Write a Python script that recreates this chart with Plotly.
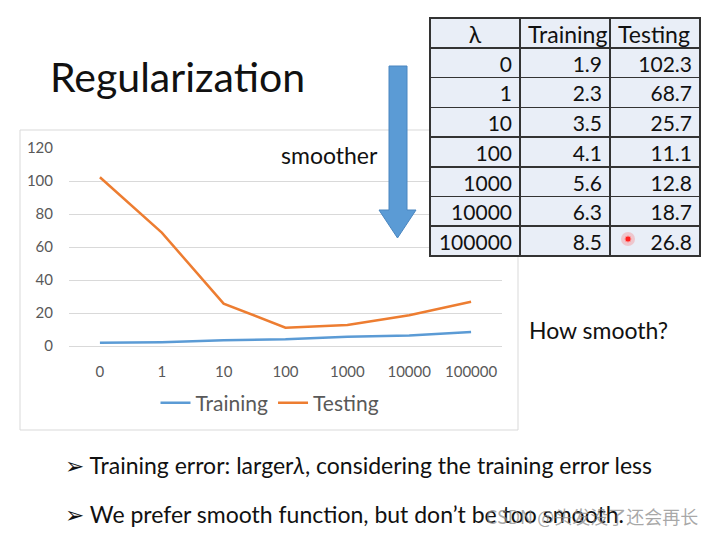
import plotly.graph_objects as go

# page has an 8px body margin, so the figure is drawn 8px in from the window corner
OFF = 8
W, H = 714 - 2 * OFF, 539 - 2 * OFF

lambdas = ["0", "1", "10", "100", "1000", "10000", "100000"]
training = [1.9, 2.3, 3.5, 4.1, 5.6, 6.3, 8.5]
testing = [102.3, 68.7, 25.7, 11.1, 12.8, 18.7, 26.8]
y_ticks = [0, 20, 40, 60, 80, 100, 120]

FONT = "Lato, 'Open Sans', sans-serif"
BLUE = "#5b9bd5"
ORANGE = "#ed7d31"
AXIS_TXT = "#595959"


def px(x):
    return (x - OFF) / W


def py(y):
    return 1 - (y - OFF) / H


fig = go.Figure()

fig.add_trace(go.Scatter(x=lambdas, y=training, mode="lines", name="Training",
                         line=dict(color=BLUE, width=2.5)))
fig.add_trace(go.Scatter(x=lambdas, y=testing, mode="lines", name="Testing",
                         line=dict(color=ORANGE, width=2.5)))

fig.add_trace(go.Table(
    domain=dict(x=[px(430), px(700)], y=[py(300), py(18)]),
    columnwidth=[90, 90, 90],
    header=dict(values=["λ", "Training", "Testing"],
                align=["center", "left", "left"],
                fill_color="#e9eef7",
                line=dict(color="#333333", width=1.5),
                font=dict(family=FONT, size=23, color="#111111"),
                height=30),
    cells=dict(values=[lambdas,
                       [f"{v:.1f}" for v in training],
                       [f"{v:.1f}" for v in testing]],
               align="right",
               fill_color="#e9eef7",
               line=dict(color="#333333", width=1.5),
               font=dict(family=FONT, size=21, color="#111111"),
               height=29.7),
))

shapes = []
# chart frame
shapes.append(dict(type="rect", xref="paper", yref="paper",
                   x0=px(20), x1=px(518), y0=py(430), y1=py(130),
                   line=dict(color="#d9d9d9", width=1), layer="below"))
# arrow
ax0, ax1, hx0, hx1 = 389, 407, 379, 416
ytop, yneck, ytip = 66, 210, 238
path = (f"M {px(ax0)} {py(ytop)} L {px(ax1)} {py(ytop)} L {px(ax1)} {py(yneck)} "
        f"L {px(hx1)} {py(yneck)} L {px((hx0 + hx1) / 2)} {py(ytip)} "
        f"L {px(hx0)} {py(yneck)} L {px(ax0)} {py(yneck)} Z")
shapes.append(dict(type="path", xref="paper", yref="paper", path=path,
                   fillcolor=BLUE, line=dict(color="#4a86c0", width=1)))
# laser pointer dot
shapes.append(dict(type="circle", xref="paper", yref="paper",
                   x0=px(621), x1=px(635), y0=py(246), y1=py(232),
                   fillcolor="rgba(255,80,80,0.25)", line=dict(width=0)))
shapes.append(dict(type="circle", xref="paper", yref="paper",
                   x0=px(625), x1=px(631), y0=py(242), y1=py(236),
                   fillcolor="#ff2020", line=dict(color="#ff9090", width=1)))

annotations = [
    dict(text="Regularization", x=px(48), y=py(77), xanchor="left", yanchor="middle",
         font=dict(family=FONT, size=41, color="#111111")),
    dict(text="smoother", x=px(279), y=py(155), xanchor="left", yanchor="middle",
         font=dict(family=FONT, size=23, color="#111111")),
    dict(text="How smooth?", x=px(527), y=py(330), xanchor="left", yanchor="middle",
         font=dict(family=FONT, size=23, color="#111111")),
    dict(text="<span style='font-family:DejaVu Sans'>➢</span> Training error: larger<i>λ</i>, considering the training error less",
         x=px(63), y=py(465), xanchor="left", yanchor="middle",
         font=dict(family=FONT, size=23, color="#111111")),
    dict(text="<span style='font-family:DejaVu Sans'>➢</span> We prefer smooth function, but don’t be too smooth.",
         x=px(63), y=py(514), xanchor="left", yanchor="middle",
         font=dict(family=FONT, size=23, color="#111111")),
    dict(text="CSDN @头发没了还会再长", x=px(700), y=py(531), xanchor="right", yanchor="bottom",
         font=dict(family="'Noto Sans CJK SC', sans-serif", size=18, color="rgba(140,140,140,0.75)")),
]
for a in annotations:
    a.update(xref="paper", yref="paper", showarrow=False)

fig.update_layout(
    width=W, height=H,
    margin=dict(l=0, r=0, t=0, b=0, pad=0, autoexpand=False),
    paper_bgcolor="white", plot_bgcolor="white",
    font=dict(family=FONT, color=AXIS_TXT),
    xaxis=dict(domain=[px(69), px(502)], type="category", range=[-0.5, 6.5],
               showgrid=False, zeroline=False, showline=False, automargin=False,
               ticks="outside", ticklen=12, tickcolor="rgba(0,0,0,0)",
               tickfont=dict(size=15, color=AXIS_TXT), fixedrange=True),
    yaxis=dict(domain=[py(346), py(148)], range=[0, 120], tickvals=y_ticks,
               showgrid=True, gridcolor="#d9d9d9", gridwidth=1,
               zeroline=True, zerolinecolor="#d9d9d9", zerolinewidth=1,
               showline=False, automargin=False, ticks="outside", ticklen=12,
               tickcolor="rgba(0,0,0,0)",
               tickfont=dict(size=15, color=AXIS_TXT), fixedrange=True),
    showlegend=True,
    legend=dict(orientation="h", x=px(270), xanchor="center", y=py(403), yanchor="middle",
                font=dict(family=FONT, size=21, color=AXIS_TXT),
                bgcolor="rgba(0,0,0,0)", itemwidth=30, tracegroupgap=0),
    shapes=shapes,
    annotations=annotations,
)

fig.write_html("out.html")
